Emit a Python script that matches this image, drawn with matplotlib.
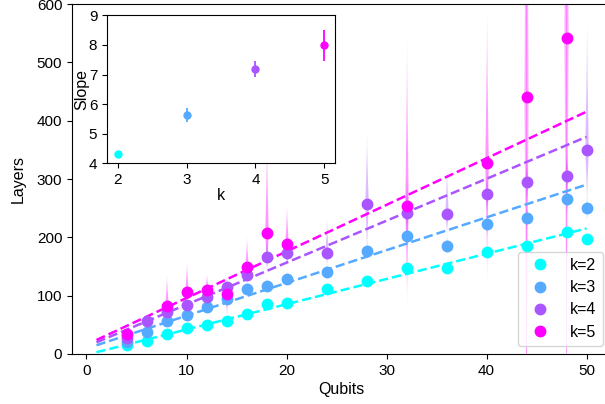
import numpy as np
import matplotlib
matplotlib.use("Agg")
import matplotlib.pyplot as plt

plt.rcParams['font.family'] = ['Liberation Sans', 'DejaVu Sans']
plt.rcParams['font.size'] = 11

# ---------------- data ----------------
qubits = [4, 6, 8, 10, 12, 14, 16, 18, 20, 24, 28, 32, 36, 40, 44, 48, 50]
ks = [2, 3, 4, 5]
nan = np.nan

layers_k2 = [15, 22, 34, 44, 50, 56, 68, 86, 87, 111, 125, 147, 148, 175, 186, 209, 197]
layers_k3 = [21, 38, 57, 66, 80, 94, 112, 117, 129, 141, 176, 202, 186, 223, 234, 265, 250]
layers_k4 = [27, 57, 72, 84, 98, 115, 136, 166, 173, 173, 258, 242, 240, 274, 295, 306, 349]
layers_k5 = [35, nan, 83, 107, 110, 102, 149, 208, 189, nan, nan, 254, nan, 327, 440, 542, nan]

low_k2 = [12, 20, 30, 41, 46, 53, 63, 80, 81, 104, 118, 139, 140, 166, 176, 198, 187]
high_k2 = [17, 25, 37, 48, 54, 60, 73, 92, 94, 118, 133, 156, 156, 185, 197, 221, 207]
low_k3 = [17, 33, 50, 58, 72, 84, 100, 104, 117, 127, 160, 184, 170, 204, 212, 242, 230]
high_k3 = [25, 43, 64, 74, 90, 104, 124, 132, 143, 157, 193, 222, 203, 243, 258, 290, 272]
low_k4 = [22, 50, 63, 74, 86, 100, 120, 148, 152, 152, 165, 200, 205, 240, 255, 265, 250]
high_k4 = [33, 68, 84, 98, 115, 135, 165, 205, 210, 235, 384, 300, 327, 315, 340, 355, 580]
low_k5 = [28, nan, 68, 92, 97, 64, 122, 130, 148, nan, nan, 80, nan, 115, -400, -400, nan]
high_k5 = [48, nan, 140, 162, 140, 128, 205, 380, 260, nan, nan, 552, nan, 600, 1600, 1600, nan]

slopes = [4.33, 5.62, 7.19, 7.99]
slope_err = [0.05, 0.24, 0.28, 0.52]
intercepts = [-1.3, 9.4, 12.8, 16.0]
fit_range = [1, 50]

layers = [layers_k2, layers_k3, layers_k4, layers_k5]
lows = [low_k2, low_k3, low_k4, low_k5]
highs = [high_k2, high_k3, high_k4, high_k5]

cmap = plt.get_cmap('cool')
colors = [cmap(i / 3) for i in range(4)]

# ---------------- figure ----------------
fig = plt.figure(figsize=(6.05, 4.04), dpi=100)
ax = fig.add_axes([0.119, 0.1238, 0.891, 0.8662])

for ki, (k, ys, lo, hi, c) in enumerate(zip(ks, layers, lows, highs, colors)):
    ys = np.asarray(ys, float)
    lo = np.asarray(lo, float)
    hi = np.asarray(hi, float)
    # tapered (violin-like) spread bands
    for x, y, l, h in zip(qubits, ys, lo, hi):
        if np.isnan(y):
            continue
        yy = np.linspace(l, h, 400)
        d = np.where(yy >= y, (yy - y) / max(h - y, 1e-9), (y - yy) / max(y - l, 1e-9))
        w = 0.22 * (1 - np.clip(d, 0, 1)) ** 2
        ax.fill_betweenx(yy, x - w, x + w, color=c, alpha=0.28, lw=0, zorder=1 + ki * 0.1)
        w2 = 0.08 * (1 - np.clip(d, 0, 1)) ** 1.5
        ax.fill_betweenx(yy, x - w2, x + w2, color=c, alpha=0.28, lw=0, zorder=1 + ki * 0.1)
    # fitted line
    xf = np.array(fit_range, float)
    ax.plot(xf, slopes[ki] * xf + intercepts[ki], '--', color=c, lw=1.8, zorder=2)
    mask = ~np.isnan(ys)
    ax.plot(np.asarray(qubits)[mask], ys[mask], 'o', color=c, ms=7.5, ls='none',
            label=f'k={k}', zorder=3 + ki * 0.1)

ax.set_xlim(-1.45, 52.45)
ax.set_ylim(0, 600)
ax.set_xticks([0, 10, 20, 30, 40, 50])
ax.set_yticks([0, 100, 200, 300, 400, 500, 600])
ax.tick_params(labelsize=11)
ax.set_xlabel('Qubits', fontsize=11.5, labelpad=3)
ax.set_ylabel('Layers', fontsize=11.5, labelpad=8)
ax.legend(loc='lower right', fontsize=11.5, handletextpad=0.9, borderpad=0.4,
          labelspacing=0.45)

# ---------------- inset ----------------
axin = fig.add_axes([0.1769, 0.5958, 0.3768, 0.3662])
for ki, k in enumerate(ks):
    axin.errorbar([k], [slopes[ki]], yerr=[slope_err[ki]], fmt='o', color=colors[ki],
                  ms=5, elinewidth=1.3, ecolor=colors[ki], capsize=0)
axin.set_xlim(1.845, 5.155)
axin.set_ylim(4, 9)
axin.set_xticks(ks)
axin.set_yticks([4, 5, 6, 7, 8, 9])
axin.tick_params(labelsize=11)
axin.set_xlabel('k', fontsize=11.5, labelpad=1)
axin.set_ylabel('Slope', fontsize=11.5, labelpad=0)

fig.savefig('out.png', dpi=100)
